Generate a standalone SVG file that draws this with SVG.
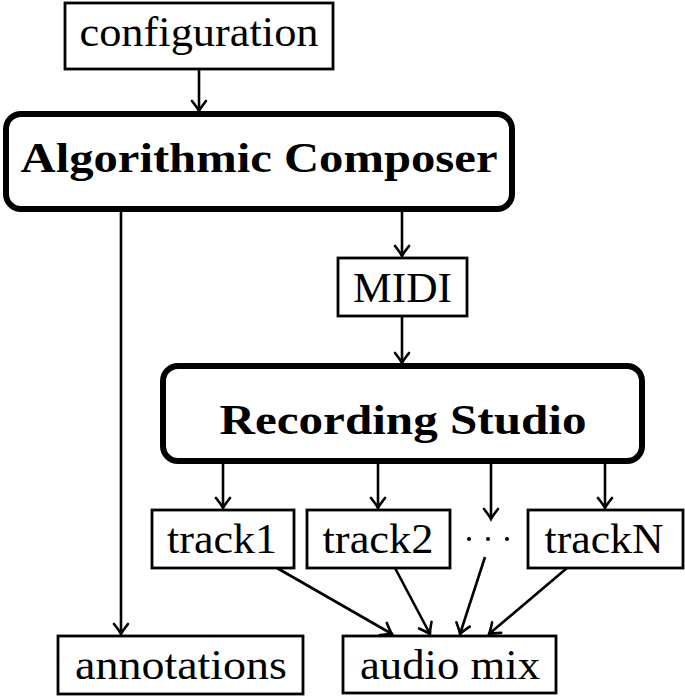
<svg xmlns="http://www.w3.org/2000/svg" width="685" height="697" viewBox="0 0 685 697">
<defs>
<style>
.box{fill:#fff;stroke:#000;stroke-width:2.8}
.big{fill:#fff;stroke:#000;stroke-width:6}
.t{font-family:"Liberation Serif","DejaVu Serif",serif;font-size:42px;fill:#000;text-anchor:middle}
.b{font-family:"Liberation Serif","DejaVu Serif",serif;font-size:42px;font-weight:bold;fill:#000;text-anchor:middle}
.c{fill:none;stroke:#000;stroke-width:2.6}
</style>
<marker id="ar" markerUnits="userSpaceOnUse" viewBox="-12 -9 14 18" refX="0" refY="0" markerWidth="14" markerHeight="18" orient="auto" overflow="visible">
<path d="M-10,-7 Q-3,-1.5 0,0 Q-3,1.5 -10,7" fill="none" stroke="#000" stroke-width="2.6" stroke-linecap="round"/>
</marker>
</defs>
<rect width="685" height="697" fill="#fff"/>
<g id="connectors">
<line class="c" x1="199" y1="69" x2="199" y2="111" marker-end="url(#ar)"/>
<line class="c" x1="121" y1="212" x2="121" y2="634" marker-end="url(#ar)"/>
<line class="c" x1="402" y1="212" x2="402" y2="256" marker-end="url(#ar)"/>
<line class="c" x1="402" y1="316" x2="402" y2="363" marker-end="url(#ar)"/>
<line class="c" x1="223" y1="464" x2="223" y2="508" marker-end="url(#ar)"/>
<line class="c" x1="378" y1="464" x2="378" y2="508" marker-end="url(#ar)"/>
<line class="c" x1="491" y1="464" x2="491" y2="519" marker-end="url(#ar)"/>
<line class="c" x1="605" y1="464" x2="605" y2="508" marker-end="url(#ar)"/>
<line class="c" x1="277" y1="568" x2="392" y2="634" marker-end="url(#ar)"/>
<line class="c" x1="395" y1="568" x2="430" y2="634" marker-end="url(#ar)"/>
<line class="c" x1="485" y1="557" x2="460" y2="634" marker-end="url(#ar)"/>
<line class="c" x1="567" y1="568" x2="489" y2="634" marker-end="url(#ar)"/>
</g>
<g id="configuration">
<rect class="box" x="65" y="3" width="268" height="66"/>
<text class="t" x="199" y="46" textLength="239" lengthAdjust="spacingAndGlyphs">configuration</text>
</g>
<g id="composer">
<rect class="big" x="6" y="114" width="506" height="95" rx="15"/>
<text class="b" x="259" y="172" textLength="477" lengthAdjust="spacingAndGlyphs">Algorithmic Composer</text>
</g>
<g id="midi">
<rect class="box" x="338" y="258" width="129" height="58"/>
<text class="t" x="402.5" y="302" textLength="99" lengthAdjust="spacingAndGlyphs">MIDI</text>
</g>
<g id="studio">
<rect class="big" x="163" y="366" width="479" height="95" rx="15"/>
<text class="b" x="403" y="434" textLength="367" lengthAdjust="spacingAndGlyphs">Recording Studio</text>
</g>
<g id="track1">
<rect class="box" x="152" y="510" width="142" height="58"/>
<text class="t" x="222" y="553" textLength="110" lengthAdjust="spacingAndGlyphs">track1</text>
</g>
<g id="track2">
<rect class="box" x="307" y="510" width="143" height="58"/>
<text class="t" x="378" y="553" textLength="111" lengthAdjust="spacingAndGlyphs">track2</text>
</g>
<g id="dots">
<circle cx="469" cy="539" r="2"/>
<circle cx="488" cy="539" r="2"/>
<circle cx="507" cy="539" r="2"/>
</g>
<g id="trackN">
<rect class="box" x="528" y="510" width="155" height="58"/>
<text class="t" x="604" y="553" textLength="119" lengthAdjust="spacingAndGlyphs">trackN</text>
</g>
<g id="annotations">
<rect class="box" x="58" y="636" width="245" height="58"/>
<text class="t" x="181" y="679" textLength="212" lengthAdjust="spacingAndGlyphs">annotations</text>
</g>
<g id="audiomix">
<rect class="box" x="343" y="636" width="213" height="57"/>
<text class="t" x="450" y="679" textLength="180" lengthAdjust="spacingAndGlyphs">audio mix</text>
</g>
</svg>
